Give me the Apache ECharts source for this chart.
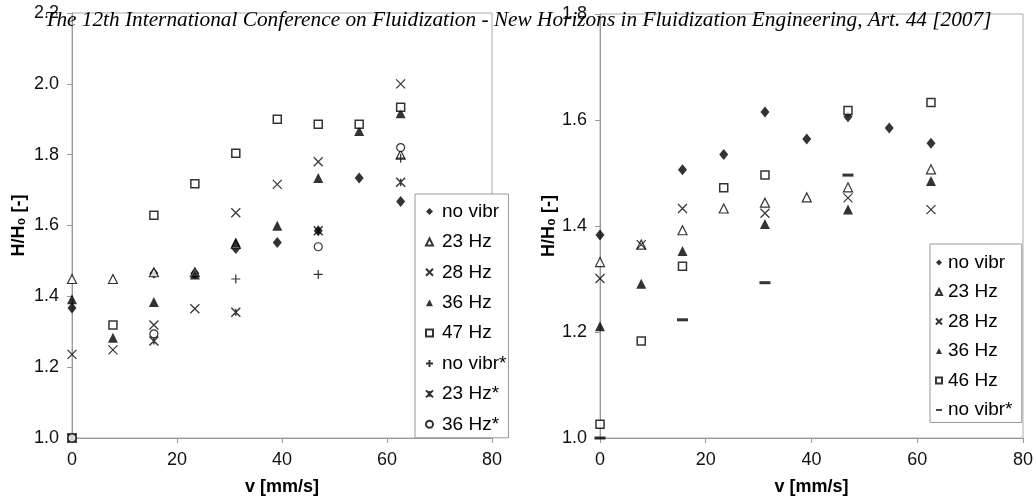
<!DOCTYPE html>
<html>
<head>
<meta charset="utf-8">
<script src="https://cdn.jsdelivr.net/npm/echarts@6/dist/echarts.min.js"></script>
<style>
html, body {margin: 0; padding: 0; background: #fff;}
#main {width: 1036px; height: 501px;}
</style>
</head>
<body>
<div id="main"></div>
<script>
// left panel: [v mm/s, H/H0]
var noVibrL = [[0,1.367],[15.6,1.465],[23.4,1.465],[31.2,1.535],[39.1,1.552],[46.9,1.585],[54.7,1.734],[62.6,1.668]];
var hz23L = [[0,1.449],[7.8,1.449],[15.6,1.468],[23.4,1.468],[31.2,1.548],[62.6,1.800]];
var hz28L = [[0,1.236],[7.8,1.249],[15.6,1.319],[23.4,1.365],[31.2,1.636],[39.1,1.716],[46.9,1.780],[62.6,2.000]];
var hz36L = [[0,1.392],[7.8,1.283],[15.6,1.384],[23.4,1.462],[31.2,1.552],[39.1,1.599],[46.9,1.734],[54.7,1.867],[62.6,1.917]];
var hz47L = [[0,1.0],[7.8,1.319],[15.6,1.629],[23.4,1.718],[31.2,1.804],[39.1,1.900],[46.9,1.886],[54.7,1.886],[62.6,1.934]];
var noVibrStarL = [[0,1.0],[31.2,1.449],[46.9,1.462],[62.6,1.790]];
var hz23StarL = [[0,1.0],[15.6,1.274],[31.2,1.355],[46.9,1.585],[62.6,1.722]];
var hz36StarL = [[0,1.0],[15.6,1.294],[46.9,1.540],[62.6,1.820]];

// right panel
var noVibrR = [[0,1.383],[15.6,1.506],[23.4,1.535],[31.2,1.615],[39.1,1.564],[46.9,1.606],[54.7,1.585],[62.6,1.556]];
var hz23R = [[0,1.332],[7.8,1.365],[15.6,1.392],[23.4,1.433],[31.2,1.444],[39.1,1.454],[46.9,1.473],[62.6,1.507]];
var hz28R = [[0,1.301],[7.8,1.365],[15.6,1.433],[31.2,1.424],[46.9,1.453],[62.6,1.431]];
var hz36R = [[0,1.211],[7.8,1.291],[15.6,1.353],[31.2,1.404],[46.9,1.431],[62.6,1.485]];
var hz46R = [[0,1.026],[7.8,1.183],[15.6,1.324],[23.4,1.472],[31.2,1.496],[46.9,1.618],[62.6,1.633]];
var noVibrStarR = [[0,1.0],[15.6,1.223],[31.2,1.293],[46.9,1.496]];

var namesL = ['no vibr', '23 Hz', '28 Hz', '36 Hz', '47 Hz', 'no vibr*', '23 Hz*', '36 Hz*'];
var namesR = ['no vibr ', '23 Hz ', '28 Hz ', '36 Hz ', '46 Hz', 'no vibr* '];

var TITLE = 'The 12th International Conference on Fluidization - New Horizons in Fluidization Engineering, Art. 44 [2007]';
var SANS = 'Liberation Sans, Arial, sans-serif';

// marker styles
var MK = {
    diamond: {symbol: 'diamond', size: [9, 11], style: {color: '#000'}},
    triOpen: {symbol: 'triangle', size: 9, style: {color: '#fff', borderColor: '#000', borderWidth: 1.2}},
    cross: {symbol: 'path://M0,0L10,10M10,0L0,10', size: 9, style: {color: 'transparent', borderColor: '#000', borderWidth: 1.2}},
    triFill: {symbol: 'triangle', size: 10, style: {color: '#000'}},
    square: {symbol: 'rect', size: 8, style: {color: '#fff', borderColor: '#000', borderWidth: 1.5}},
    plus: {symbol: 'path://M5,0L5,10M0,5L10,5', size: 9, style: {color: 'transparent', borderColor: '#000', borderWidth: 1.2}},
    star: {symbol: 'path://M0,0L10,10M10,0L0,10M5,1L5,9', size: 9, style: {color: 'transparent', borderColor: '#000', borderWidth: 1.4}},
    circle: {symbol: 'circle', size: 8, style: {color: '#fff', borderColor: '#000', borderWidth: 1.2}},
    dash: {symbol: 'path://M0,0L10,0L10,3L0,3Z', size: [11, 3], style: {color: '#000'}}
};

function sc(name, data, mk, idx) {
    return {
        name: name,
        type: 'scatter',
        xAxisIndex: idx,
        yAxisIndex: idx,
        data: data,
        symbol: mk.symbol,
        symbolSize: mk.size,
        itemStyle: mk.style,
        emphasis: {disabled: true},
        silent: true
    };
}

function xAx(idx) {
    return {
        type: 'value', gridIndex: idx, min: 0, max: 80, interval: 20,
        name: 'v [mm/s]', nameLocation: 'middle', nameGap: 40,
        nameTextStyle: {fontFamily: SANS, fontSize: 18, fontWeight: 'bold', color: '#000'},
        axisLine: {show: true, onZero: false, lineStyle: {color: '#999', width: 1}},
        axisTick: {show: true, inside: false, length: 5, lineStyle: {color: '#999'}},
        axisLabel: {fontFamily: SANS, fontSize: 18, color: '#111', margin: 13},
        splitLine: {show: false}
    };
}

function yAx(idx, max, gap) {
    return {
        type: 'value', gridIndex: idx, min: 1, max: max, interval: 0.2,
        name: 'H/H\u2080 [-]', nameLocation: 'middle', nameGap: gap,
        nameTextStyle: {fontFamily: SANS, fontSize: 18, fontWeight: 'bold', color: '#000'},
        axisLine: {show: true, onZero: false, lineStyle: {color: '#999', width: 1}},
        axisTick: {show: true, inside: false, length: 5, lineStyle: {color: '#999'}},
        axisLabel: {fontFamily: SANS, fontSize: 18, color: '#111', margin: 13,
            formatter: function (v) { return v.toFixed(1); }},
        splitLine: {show: false}
    };
}

var legendBase = {
    orient: 'vertical',
    backgroundColor: '#fff',
    borderColor: '#999',
    borderWidth: 1,
    borderRadius: 0,
    textStyle: {fontFamily: SANS, fontSize: 19, color: '#000'},
    selectedMode: false
};

var myChart = echarts.init(document.getElementById('main'), null, {renderer: 'canvas'});
myChart.setOption({
    animation: false,
    title: {
        text: TITLE,
        left: 'center',
        top: 5,
        textStyle: {fontFamily: 'Liberation Serif, serif', fontStyle: 'italic', fontWeight: 'normal', fontSize: 21.3, color: '#000'}
    },
    grid: [
        {left: 72, top: 13, width: 420, height: 428, show: true, borderColor: '#aaa', borderWidth: 1, backgroundColor: 'transparent'},
        {left: 600, top: 14, width: 423, height: 425, show: true, borderColor: '#aaa', borderWidth: 1, backgroundColor: 'transparent'}
    ],
    xAxis: [xAx(0), xAx(1)],
    yAxis: [yAx(0, 2.2, 44), yAx(1, 1.8, 36)],
    legend: [
        Object.assign({}, legendBase, {
            data: namesL, left: 415, top: 194, itemGap: 11.4, itemWidth: 7, itemHeight: 7,
            padding: [8, 2, 4, 10],
            textStyle: {fontFamily: SANS, fontSize: 19, color: '#000', padding: [0, 0, 0, 4]}
        }),
        Object.assign({}, legendBase, {
            data: namesR, left: 930, top: 244, itemGap: 10.5, itemWidth: 6, itemHeight: 6,
            padding: [9, 4, 3, 5],
            textStyle: {fontFamily: SANS, fontSize: 19, color: '#000', padding: [0, 0, 0, 1]}
        })
    ],
    series: [
        sc(namesL[0], noVibrL, MK.diamond, 0),
        sc(namesL[1], hz23L, MK.triOpen, 0),
        sc(namesL[2], hz28L, MK.cross, 0),
        sc(namesL[3], hz36L, MK.triFill, 0),
        sc(namesL[4], hz47L, MK.square, 0),
        sc(namesL[5], noVibrStarL, MK.plus, 0),
        sc(namesL[6], hz23StarL, MK.star, 0),
        sc(namesL[7], hz36StarL, MK.circle, 0),
        sc(namesR[0], noVibrR, MK.diamond, 1),
        sc(namesR[1], hz23R, MK.triOpen, 1),
        sc(namesR[2], hz28R, MK.cross, 1),
        sc(namesR[3], hz36R, MK.triFill, 1),
        sc(namesR[4], hz46R, MK.square, 1),
        sc(namesR[5], noVibrStarR, MK.dash, 1)
    ]
});
</script>
</body>
</html>
